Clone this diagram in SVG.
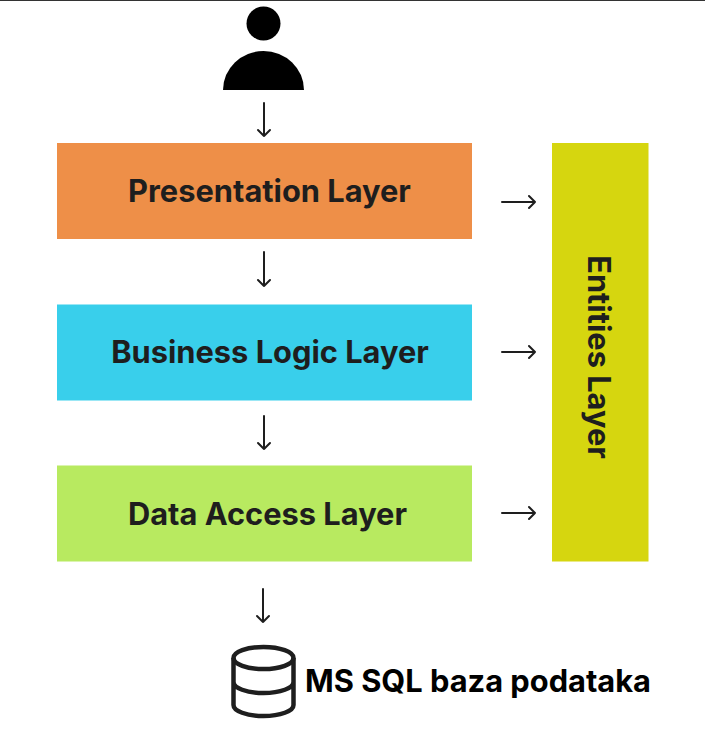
<svg xmlns="http://www.w3.org/2000/svg" width="705" height="736" viewBox="0 0 705 736">
<style>
text{font-family:Inter,"Liberation Sans",sans-serif;font-weight:700;font-size:30.800px;fill:#1e1e1e;text-anchor:middle}
.c{fill:none;stroke:#1e1e1e;stroke-width:2;stroke-linecap:round;stroke-linejoin:round}
.db{fill:none;stroke:#1e1e1e;stroke-width:4.500}
</style>
<rect width="705" height="736" fill="#fff"/>
<rect x="0" y="0" width="705" height="1" fill="#333"/>
<g id="user"><circle cx="263.500" cy="23.500" r="17" fill="#000"/><path d="M223 90a40.500 39 0 0 1 81 0z" fill="#000"/></g>
<g id="presentation"><rect x="57" y="143" width="415" height="96" fill="#ee8f48"/><text x="269.500" y="201.500">Presentation Layer</text></g>
<g id="business"><rect x="57" y="304.500" width="415" height="96" fill="#39cfeb"/><text x="270" y="362.500">Business Logic Layer</text></g>
<g id="data"><rect x="57" y="465.500" width="415" height="96" fill="#b8ea60"/><text x="267.500" y="524.500">Data Access Layer</text></g>
<g id="entities"><rect x="552" y="143" width="96.500" height="418.500" fill="#d6d60f"/><text transform="translate(588 357) rotate(90)">Entities Layer</text></g>
<g id="database"><ellipse cx="263.500" cy="658" rx="30" ry="11" class="db"/><path class="db" d="M233.500 658v47c0 6 13 11 30 11s30-5 30-11v-47M233.500 682c0 6 13 11 30 11s30-5 30-11"/><text x="478" y="692" style="fill:#000">MS SQL baza podataka</text></g>
<g id="connectors">
<path class="c" d="M264 103v33M258 130l6 6 6-6"/>
<path class="c" d="M264 252v34M258 280l6 6 6-6"/>
<path class="c" d="M264 416v33M258 443l6 6 6-6"/>
<path class="c" d="M263 589v33M257 616l6 6 6-6"/>
<path class="c" d="M502 202h33M529 196l6 6-6 6"/>
<path class="c" d="M502 352h33M529 346l6 6-6 6"/>
<path class="c" d="M502 513h33M529 507l6 6-6 6"/>
</g>
</svg>
